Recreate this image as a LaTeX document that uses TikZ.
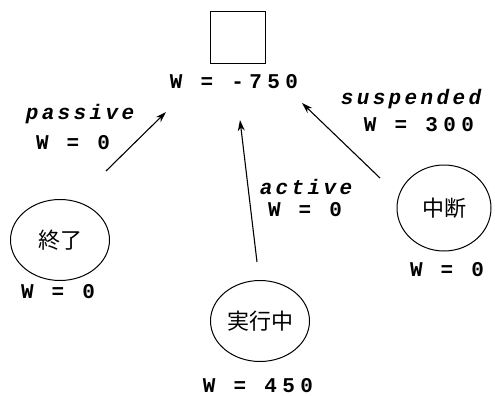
\documentclass[tikz,border=0pt]{standalone}
\usepackage{fontspec}
\setmonofont[LetterSpace=16]{Liberation Mono}
\newfontfamily\wfont[LetterSpace=26]{Liberation Mono}
\newfontfamily\cjk{Noto Sans CJK JP}
\usetikzlibrary{arrows.meta,shapes.geometric}
\begin{document}
\begin{tikzpicture}[x=1pt,y=-1pt,
  wlab/.style={font=\fontsize{21}{23}\selectfont\wfont\bfseries, inner sep=0pt},
  elab/.style={font=\fontsize{21}{23}\selectfont\ttfamily\bfseries\itshape, inner sep=0pt},
  state/.style={draw, line width=1pt, ellipse, minimum width=99pt, minimum height=81pt, inner sep=0pt, font=\fontsize{22}{24}\selectfont\cjk},
  arr/.style={line width=1.1pt, -{Stealth[length=11pt,width=7pt]}}]
\useasboundingbox (0,0) rectangle (495,396);
\node[draw, line width=1pt, minimum width=55pt, minimum height=52pt, inner sep=0pt] (top) at (237.5,38) {};
\node[wlab] (wtop) at (234,82) {W = -750};
\node[state] (end) at (60,240) {終了};
\node[wlab] (wend) at (58,292) {W = 0};
\node[state] (run) at (260,321) {実行中};
\node[wlab] (wrun) at (258,386) {W = 450};
\node[state, minimum width=94pt, minimum height=86pt] (susp) at (444,208) {中断};
\node[wlab] (wsusp) at (447,270) {W = 0};
\node[elab] (lpas) at (80,114) {passive};
\node[wlab] (wpas) at (73,143) {W = 0};
\node[elab] (lact) at (306,187) {active};
\node[wlab] (wact) at (305,210) {W = 0};
\node[elab] (lsus) at (411,99) {suspended};
\node[wlab] (wsus) at (419,125) {W = 300};
\coordinate (p1) at (106,171);
\coordinate (p2) at (166,112);
\coordinate (a1) at (257,262);
\coordinate (a2) at (240,120);
\coordinate (s1) at (380,178);
\coordinate (s2) at (302,103);
\draw[arr] (p1) -- (p2);
\draw[arr] (a1) -- (a2);
\draw[arr] (s1) -- (s2);
\end{tikzpicture}
\end{document}
